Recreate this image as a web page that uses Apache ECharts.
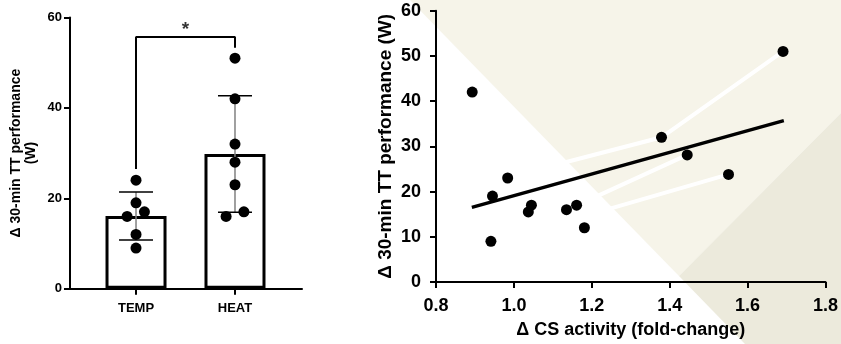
<!DOCTYPE html>
<html>
<head>
<meta charset="utf-8">
<script src="https://cdn.jsdelivr.net/npm/echarts@6/dist/echarts.min.js"></script>
<style>
  html, body { margin: 0; padding: 0; background: #ffffff; }
  #chart { width: 841px; height: 344px; }
</style>
</head>
<body>
<div id="chart"></div>
<script>
// left panel: bar + dots
const categories = ['TEMP', 'HEAT'];
const barMeans = [16.1, 29.8];
const barSD = [5.3, 12.9];
const tempPoints = [[1, 24], [1, 19], [0.91, 16], [1.085, 17], [1, 12], [1, 9]];
const heatPoints = [[2, 51], [2, 42], [2, 32], [2, 28], [2, 23], [1.91, 16], [2.09, 17]];
const sigBracket = [[1, 26.5], [1, 55.7], [2, 55.7], [2, 53.3]];
const sigStar = [[1.5, 57.2]];

// right panel: correlation
const csActivity = [0.893, 0.945, 0.941, 0.984, 1.037, 1.045, 1.135, 1.161, 1.181, 1.379, 1.445, 1.551, 1.691];
const ttPerformance = [42, 19, 9, 23, 15.5, 17, 16, 17, 12, 32, 28.1, 23.8, 51];
const regressionLine = [[0.892, 16.5], [1.693, 35.7]];
// white streaks from the slide background
const bgStreaks = [
  [[1.691, 51], [1.379, 32], [1.12, 26.2]],
  [[1.445, 28.1], [1.204, 18.6]],
  [[1.551, 23.8], [1.238, 16.0]]
];

const FONT = 'Liberation Sans, Arial, sans-serif';
const chart = echarts.init(document.getElementById('chart'));

const axisLine = { show: true, lineStyle: { color: '#000', width: 2 } };
const axisTick = { show: true, length: 6, lineStyle: { color: '#000', width: 2 } };

const option = {
  animation: false,
  backgroundColor: '#ffffff',
  graphic: [
    {
      type: 'polygon', z: -10, silent: true,
      shape: { points: [[410, 0], [841, 0], [841, 113], [679, 276]] },
      style: { fill: '#f6f4e9' }
    },
    {
      type: 'polygon', z: -10, silent: true,
      shape: { points: [[679, 276], [841, 113], [841, 344], [745, 344]] },
      style: { fill: '#eceadc' }
    }
  ],
  grid: [
    { left: 70, top: 17.5, width: 232, height: 271.2 },
    { left: 436, top: 10.7, width: 390, height: 272 }
  ],
  xAxis: [
    {
      gridIndex: 0, type: 'value', min: 0.333, max: 2.677,
      axisLine: axisLine,
      axisTick: { show: true, length: 6, lineStyle: { color: '#000', width: 2 }, customValues: [1, 2] },
      axisLabel: {
        customValues: [1, 2], margin: 13,
        formatter: v => categories[Math.round(v) - 1],
        color: '#000', fontSize: 13, fontWeight: 'bold', fontFamily: FONT
      },
      splitLine: { show: false }
    },
    {
      gridIndex: 1, type: 'value', min: 0.8, max: 1.8, interval: 0.2,
      name: 'Δ CS activity (fold-change)', nameLocation: 'middle', nameGap: 39,
      nameTextStyle: { color: '#000', fontSize: 18, fontWeight: 'bold', fontFamily: FONT },
      axisLine: axisLine, axisTick: axisTick,
      axisLabel: {
        margin: 15, formatter: v => v.toFixed(1),
        color: '#000', fontSize: 18, fontWeight: 'bold', fontFamily: FONT
      },
      splitLine: { show: false }
    }
  ],
  yAxis: [
    {
      gridIndex: 0, type: 'value', min: 0, max: 60, interval: 20,
      name: 'Δ 30-min TT performance\n(W)', nameLocation: 'middle', nameGap: 31,
      nameTextStyle: { color: '#000', fontSize: 14, fontWeight: 'bold', fontFamily: FONT, lineHeight: 15 },
      axisLine: axisLine, axisTick: axisTick,
      axisLabel: { margin: 8, color: '#000', fontSize: 13, fontWeight: 'bold', fontFamily: FONT },
      splitLine: { show: false }
    },
    {
      gridIndex: 1, type: 'value', min: 0, max: 60, interval: 10,
      name: 'Δ 30-min TT performance (W)', nameLocation: 'middle', nameGap: 41,
      nameTextStyle: { color: '#000', fontSize: 19, fontWeight: 'bold', fontFamily: FONT },
      axisLine: axisLine, axisTick: axisTick,
      axisLabel: { margin: 15, color: '#000', fontSize: 18, fontWeight: 'bold', fontFamily: FONT },
      splitLine: { show: false }
    }
  ],
  series: [
    {
      type: 'bar', xAxisIndex: 0, yAxisIndex: 0, barWidth: 61,
      data: barMeans.map((m, i) => [i + 1, m]),
      itemStyle: { color: '#fff', borderColor: '#000', borderWidth: 3 },
      z: 2
    },
    {
      type: 'custom', xAxisIndex: 0, yAxisIndex: 0, z: 3,
      data: barMeans.map((m, i) => [i + 1, m, barSD[i]]),
      renderItem: function (params, api) {
        const x = api.value(0), m = api.value(1), s = api.value(2);
        const top = api.coord([x, m + s]);
        const bot = api.coord([x, m - s]);
        const hw = 17;
        return {
          type: 'group',
          children: [
            { type: 'line', shape: { x1: top[0], y1: top[1], x2: bot[0], y2: bot[1] }, style: { stroke: '#808080', lineWidth: 1.5 } },
            { type: 'line', shape: { x1: top[0] - hw, y1: top[1], x2: top[0] + hw, y2: top[1] }, style: { stroke: '#000', lineWidth: 1.5 } },
            { type: 'line', shape: { x1: bot[0] - hw, y1: bot[1], x2: bot[0] + hw, y2: bot[1] }, style: { stroke: '#000', lineWidth: 1.5 } }
          ]
        };
      }
    },
    {
      type: 'scatter', xAxisIndex: 0, yAxisIndex: 0, z: 4,
      symbolSize: 11, itemStyle: { color: '#000', opacity: 1 },
      data: tempPoints
    },
    {
      type: 'scatter', xAxisIndex: 0, yAxisIndex: 0, z: 4,
      symbolSize: 11, itemStyle: { color: '#000', opacity: 1 },
      data: heatPoints
    },
    {
      type: 'line', xAxisIndex: 0, yAxisIndex: 0, z: 3,
      showSymbol: false, symbol: 'none',
      lineStyle: { color: '#000', width: 2 },
      data: sigBracket
    },
    {
      type: 'scatter', xAxisIndex: 0, yAxisIndex: 0, z: 4,
      symbolSize: 1, itemStyle: { color: 'rgba(0,0,0,0)' },
      label: { show: true, position: 'inside', formatter: '*', color: '#000', fontSize: 19, fontWeight: 'bold', fontFamily: FONT },
      data: sigStar
    },
    {
      type: 'lines', coordinateSystem: 'cartesian2d', xAxisIndex: 1, yAxisIndex: 1,
      polyline: true, z: 1, silent: true,
      lineStyle: { color: '#ffffff', width: 4, opacity: 1 },
      data: bgStreaks.map(c => ({ coords: c }))
    },
    {
      type: 'line', xAxisIndex: 1, yAxisIndex: 1, z: 3,
      showSymbol: false, symbol: 'none',
      lineStyle: { color: '#000', width: 3.5 },
      data: regressionLine
    },
    {
      type: 'scatter', xAxisIndex: 1, yAxisIndex: 1, z: 4,
      symbolSize: 11, itemStyle: { color: '#000', opacity: 1 },
      data: csActivity.map((x, i) => [x, ttPerformance[i]])
    }
  ]
};

chart.setOption(option);
</script>
</body>
</html>
